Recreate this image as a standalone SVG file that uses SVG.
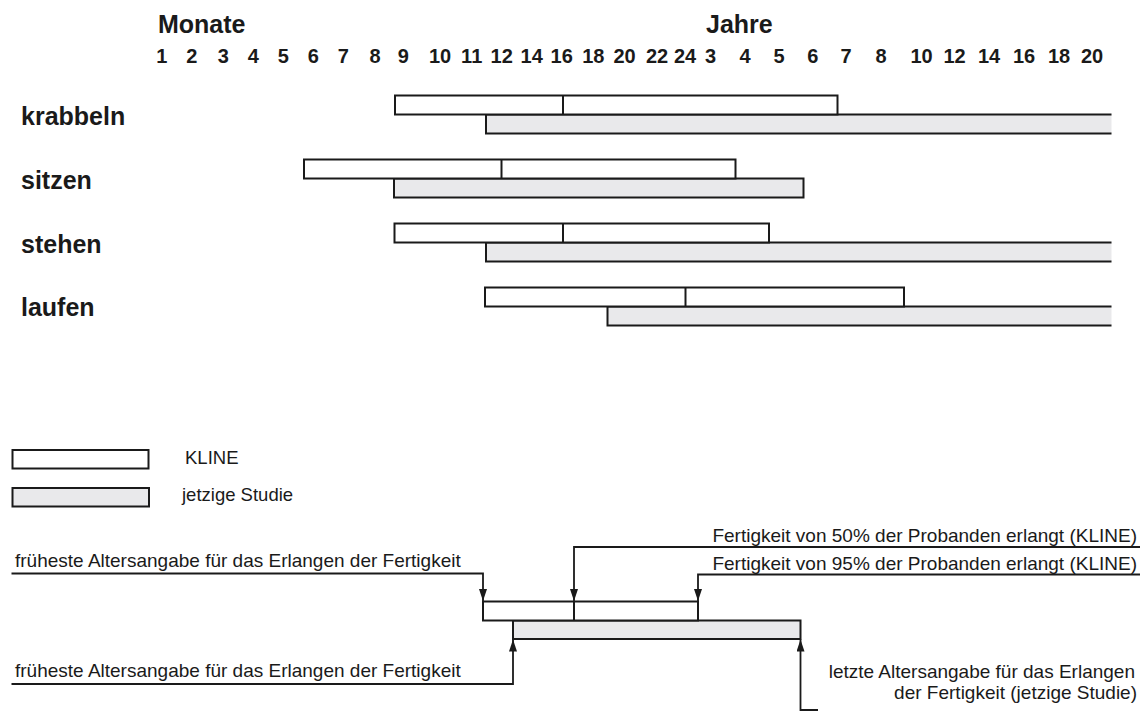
<svg xmlns="http://www.w3.org/2000/svg" width="1145" height="711" viewBox="0 0 1145 711">
<defs>
<marker id="ah" viewBox="0 0 12 8" markerWidth="12" markerHeight="8" refX="12" refY="4" orient="auto" markerUnits="userSpaceOnUse"><path d="M0,0 L12,4 L0,8 z" fill="#1a1a1a"/></marker>
</defs>
<style>
.hd{font-family:"Liberation Sans",Arial,sans-serif;font-weight:bold;font-size:25px;fill:#1a1a1a}
.tk{font-family:"Liberation Sans",Arial,sans-serif;font-weight:bold;font-size:20px;fill:#1a1a1a;text-anchor:middle}
.lb{font-family:"Liberation Sans",Arial,sans-serif;font-weight:bold;font-size:25px;fill:#1a1a1a}
.tx{font-family:"Liberation Sans",Arial,sans-serif;font-size:19px;fill:#1a1a1a}
.lg{font-family:"Liberation Sans",Arial,sans-serif;font-size:18.5px;fill:#1a1a1a}
.end{text-anchor:end}
.k{fill:#ffffff;stroke:#1a1a1a;stroke-width:2}
.s{fill:#e9e9eb;stroke:none}
.sc{fill:#e9e9eb;stroke:#1a1a1a;stroke-width:2}
.e{fill:none;stroke:#1a1a1a;stroke-width:2}
.ln{fill:none;stroke:#1a1a1a;stroke-width:1.8}
</style>
<rect width="1145" height="711" fill="#ffffff"/>
<g id="axis">
<text class="hd" x="158" y="33">Monate</text>
<text class="hd" x="706" y="33">Jahre</text>
<text class="tk" x="161.7" y="63">1</text>
<text class="tk" x="191.7" y="63">2</text>
<text class="tk" x="223.3" y="63">3</text>
<text class="tk" x="253.3" y="63">4</text>
<text class="tk" x="283.3" y="63">5</text>
<text class="tk" x="313.3" y="63">6</text>
<text class="tk" x="343.3" y="63">7</text>
<text class="tk" x="375" y="63">8</text>
<text class="tk" x="403.3" y="63">9</text>
<text class="tk" x="440" y="63">10</text>
<text class="tk" x="471.7" y="63">11</text>
<text class="tk" x="501.7" y="63">12</text>
<text class="tk" x="531.7" y="63">14</text>
<text class="tk" x="561.7" y="63">16</text>
<text class="tk" x="593.3" y="63">18</text>
<text class="tk" x="624.5" y="63">20</text>
<text class="tk" x="657" y="63">22</text>
<text class="tk" x="685" y="63">24</text>
<text class="tk" x="710.5" y="63">3</text>
<text class="tk" x="745" y="63">4</text>
<text class="tk" x="779" y="63">5</text>
<text class="tk" x="812.7" y="63">6</text>
<text class="tk" x="846" y="63">7</text>
<text class="tk" x="881" y="63">8</text>
<text class="tk" x="921.5" y="63">10</text>
<text class="tk" x="954.5" y="63">12</text>
<text class="tk" x="989" y="63">14</text>
<text class="tk" x="1024" y="63">16</text>
<text class="tk" x="1059" y="63">18</text>
<text class="tk" x="1092" y="63">20</text>
</g>
<g id="row-krabbeln">
<text class="lb" x="21" y="124.5">krabbeln</text>
<rect class="s" x="486" y="114.5" width="625.5" height="19"/>
<path class="e" d="M1111.5,114.5 H486 V133.5 H1111.5"/>
<rect class="k" x="395" y="95.5" width="442.5" height="19"/>
<line class="e" x1="563" y1="95.5" x2="563" y2="114.5"/>
</g>
<g id="row-sitzen">
<text class="lb" x="21" y="188.5">sitzen</text>
<rect class="sc" x="394" y="178.5" width="409.5" height="19"/>
<rect class="k" x="304" y="159.5" width="431.5" height="19"/>
<line class="e" x1="501.5" y1="159.5" x2="501.5" y2="178.5"/>
</g>
<g id="row-stehen">
<text class="lb" x="21" y="252.5">stehen</text>
<rect class="s" x="486" y="242.5" width="625.5" height="19"/>
<path class="e" d="M1111.5,242.5 H486 V261.5 H1111.5"/>
<rect class="k" x="394.5" y="223.5" width="374.5" height="19"/>
<line class="e" x1="563" y1="223.5" x2="563" y2="242.5"/>
</g>
<g id="row-laufen">
<text class="lb" x="21" y="316">laufen</text>
<rect class="s" x="607.5" y="306.5" width="504" height="19"/>
<path class="e" d="M1111.5,306.5 H607.5 V325.5 H1111.5"/>
<rect class="k" x="485" y="287.5" width="419" height="19"/>
<line class="e" x1="685.5" y1="287.5" x2="685.5" y2="306.5"/>
</g>
<g id="legend-kline">
<rect class="k" x="12.5" y="450" width="136" height="18.5"/>
<text class="lg" x="185" y="463.5">KLINE</text>
</g>
<g id="legend-study">
<rect class="sc" x="12.5" y="488" width="136.5" height="18.5"/>
<text class="lg" x="182" y="500.5">jetzige Studie</text>
</g>
<g id="example-bars">
<rect class="sc" x="513" y="620.5" width="287.5" height="18.5"/>
<rect class="k" x="483" y="601.5" width="215" height="19"/>
<line class="e" x1="574" y1="601.5" x2="574" y2="620.5"/>
</g>
<g id="annotation-labels">
<text class="tx" x="15" y="567">früheste Altersangabe für das Erlangen der Fertigkeit</text>
<text class="tx end" x="1137" y="542">Fertigkeit von 50% der Probanden erlangt (KLINE)</text>
<text class="tx end" x="1137" y="569.5">Fertigkeit von 95% der Probanden erlangt (KLINE)</text>
<text class="tx" x="15" y="677">früheste Altersangabe für das Erlangen der Fertigkeit</text>
<text class="tx end" x="1135" y="678">letzte Altersangabe für das Erlangen</text>
<text class="tx end" x="1137" y="699">der Fertigkeit (jetzige Studie)</text>
</g>
<g id="connectors">
<path class="ln" d="M11.5,573.5 H483 V601" marker-end="url(#ah)"/>
<path class="ln" d="M1140,547 H574 V601" marker-end="url(#ah)"/>
<path class="ln" d="M1140,574.5 H698 V601" marker-end="url(#ah)"/>
<path class="ln" d="M11.5,684 H513 V639.5" marker-end="url(#ah)"/>
<path class="ln" d="M818,710 H800.5 V639.5" marker-end="url(#ah)"/>
</g>
</svg>
